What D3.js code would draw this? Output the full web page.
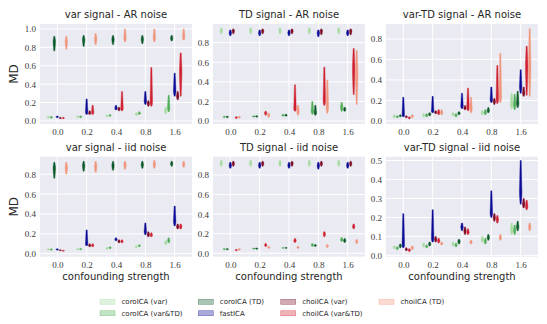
<!DOCTYPE html>
<html><head><meta charset="utf-8">
<script src="https://cdn.jsdelivr.net/npm/d3@7"></script>
<style>
body{margin:0;background:#fff;}
svg{display:block;}
</style></head>
<body>
<svg id="c" width="547" height="324"></svg>
<script>
// ---------- data ----------
const categories = ["0.0","0.2","0.4","0.8","1.6"];
const methods = ["coroICA (var)","coroICA (var&TD)","coroICA (TD)","fastICA","choiICA (var)","choiICA (var&TD)","choiICA (TD)"];
const panelTitles = ["var signal - AR noise","TD signal - AR noise","var-TD signal - AR noise",
                     "var signal - iid noise","TD signal - iid noise","var-TD signal - iid noise"];
const yTicks = [[0,0.2,0.4,0.6,0.8,1.0],[0,0.2,0.4,0.6,0.8],[0,0.2,0.4,0.6,0.8],
                [0,0.2,0.4,0.6,0.8],[0,0.2,0.4,0.6,0.8],[0,0.1,0.2,0.3,0.4,0.5]];
const yLimits = [[-0.033,1.054],[-0.03,0.99],[-0.03,0.946],[-0.03,0.977],[-0.035,0.987],[-0.007,0.52]];

// each: [method][category] = [low, mode, high]
const varAR = [
  [[0.03,0.04,0.05],[0.035,0.045,0.055],[0.045,0.055,0.065],[0.06,0.07,0.09],[0.08,0.11,0.15]],
  [[0.03,0.04,0.05],[0.035,0.045,0.055],[0.05,0.06,0.07],[0.07,0.08,0.1],[0.1,0.14,0.28]],
  [[0.76,0.87,0.92],[0.81,0.89,0.93],[0.83,0.89,0.93],[0.84,0.89,0.93],[0.87,0.9,0.93]],
  [[0.035,0.045,0.055],[0.07,0.09,0.24],[0.12,0.14,0.17],[0.18,0.21,0.32],[0.27,0.32,0.52]],
  [[0.025,0.03,0.04],[0.07,0.08,0.11],[0.11,0.13,0.15],[0.16,0.19,0.22],[0.23,0.27,0.32]],
  [[0.025,0.03,0.04],[0.07,0.09,0.17],[0.11,0.13,0.32],[0.16,0.2,0.58],[0.27,0.55,0.74]],
  [[0.78,0.87,0.92],[0.83,0.89,0.95],[0.86,0.9,1.0],[0.86,0.9,1.0],[0.88,0.91,1.0]]
];
const tdAR = [
  [[0.89,0.92,0.95],[0.89,0.92,0.95],[0.89,0.92,0.95],[0.89,0.92,0.95],[0.89,0.92,0.95]],
  [[0.035,0.045,0.05],[0.04,0.05,0.055],[0.05,0.06,0.07],[0.07,0.1,0.2],[0.1,0.14,0.19]],
  [[0.035,0.045,0.05],[0.04,0.05,0.055],[0.05,0.06,0.07],[0.06,0.08,0.16],[0.1,0.12,0.14]],
  [[0.87,0.9,0.93],[0.87,0.9,0.93],[0.87,0.9,0.93],[0.86,0.9,0.93],[0.87,0.9,0.93]],
  [[0.89,0.92,0.94],[0.89,0.92,0.94],[0.89,0.92,0.94],[0.88,0.92,0.94],[0.88,0.92,0.94]],
  [[0.025,0.035,0.045],[0.06,0.085,0.1],[0.1,0.12,0.37],[0.16,0.2,0.55],[0.27,0.55,0.74]],
  [[0.03,0.04,0.05],[0.04,0.06,0.08],[0.06,0.1,0.16],[0.08,0.14,0.42],[0.17,0.5,0.72]]
];
const vtdAR = [
  [[0.03,0.045,0.06],[0.04,0.055,0.07],[0.05,0.065,0.08],[0.06,0.08,0.1],[0.12,0.16,0.27]],
  [[0.03,0.04,0.05],[0.04,0.05,0.07],[0.04,0.055,0.07],[0.06,0.08,0.11],[0.11,0.16,0.26]],
  [[0.04,0.05,0.06],[0.05,0.065,0.08],[0.06,0.075,0.09],[0.08,0.1,0.13],[0.13,0.17,0.29]],
  [[0.04,0.05,0.23],[0.08,0.09,0.24],[0.12,0.14,0.27],[0.18,0.2,0.33],[0.27,0.33,0.5]],
  [[0.03,0.04,0.05],[0.07,0.08,0.1],[0.11,0.12,0.15],[0.16,0.19,0.22],[0.24,0.27,0.33]],
  [[0.02,0.03,0.04],[0.06,0.08,0.11],[0.1,0.13,0.32],[0.17,0.21,0.54],[0.25,0.55,0.73]],
  [[0.03,0.05,0.06],[0.06,0.08,0.11],[0.08,0.12,0.23],[0.18,0.23,0.66],[0.24,0.55,0.9]]
];
const varIID = [
  [[0.035,0.04,0.05],[0.04,0.045,0.055],[0.045,0.055,0.065],[0.06,0.07,0.08],[0.09,0.11,0.13]],
  [[0.035,0.04,0.05],[0.04,0.045,0.055],[0.05,0.06,0.07],[0.07,0.08,0.09],[0.11,0.13,0.16]],
  [[0.76,0.87,0.92],[0.83,0.89,0.93],[0.84,0.89,0.93],[0.86,0.9,0.93],[0.88,0.91,0.93]],
  [[0.035,0.045,0.05],[0.08,0.09,0.24],[0.13,0.14,0.16],[0.19,0.22,0.31],[0.28,0.32,0.48]],
  [[0.03,0.035,0.04],[0.07,0.08,0.1],[0.11,0.12,0.14],[0.17,0.19,0.22],[0.25,0.27,0.3]],
  [[0.025,0.03,0.035],[0.07,0.08,0.1],[0.11,0.12,0.14],[0.17,0.19,0.21],[0.25,0.27,0.3]],
  [[0.8,0.87,0.92],[0.82,0.88,0.93],[0.85,0.9,0.93],[0.86,0.9,0.94],[0.87,0.9,0.93]]
];
const tdIID = [
  [[0.89,0.92,0.95],[0.89,0.92,0.95],[0.89,0.92,0.95],[0.89,0.92,0.95],[0.89,0.92,0.95]],
  [[0.035,0.045,0.05],[0.04,0.05,0.055],[0.05,0.055,0.06],[0.07,0.085,0.1],[0.12,0.14,0.16]],
  [[0.035,0.04,0.05],[0.04,0.05,0.055],[0.05,0.055,0.06],[0.07,0.08,0.09],[0.11,0.13,0.15]],
  [[0.87,0.9,0.93],[0.87,0.9,0.93],[0.87,0.9,0.93],[0.86,0.9,0.93],[0.87,0.9,0.93]],
  [[0.89,0.92,0.94],[0.89,0.92,0.94],[0.89,0.92,0.94],[0.89,0.92,0.94],[0.89,0.92,0.94]],
  [[0.025,0.03,0.04],[0.07,0.08,0.1],[0.11,0.13,0.15],[0.17,0.2,0.22],[0.25,0.27,0.3]],
  [[0.03,0.04,0.05],[0.05,0.06,0.07],[0.05,0.06,0.07],[0.06,0.07,0.09],[0.1,0.12,0.14]]
];
const vtdIID = [
  [[0.035,0.045,0.05],[0.045,0.055,0.065],[0.05,0.06,0.07],[0.07,0.085,0.1],[0.11,0.14,0.17]],
  [[0.03,0.038,0.045],[0.04,0.045,0.055],[0.045,0.05,0.065],[0.06,0.075,0.09],[0.11,0.13,0.16]],
  [[0.04,0.05,0.06],[0.05,0.06,0.07],[0.06,0.075,0.085],[0.08,0.095,0.11],[0.13,0.15,0.18]],
  [[0.04,0.05,0.22],[0.07,0.085,0.24],[0.13,0.15,0.17],[0.2,0.22,0.34],[0.27,0.33,0.5]],
  [[0.025,0.03,0.04],[0.07,0.085,0.1],[0.11,0.13,0.15],[0.18,0.2,0.22],[0.25,0.27,0.3]],
  [[0.02,0.027,0.035],[0.065,0.077,0.09],[0.11,0.12,0.14],[0.17,0.19,0.21],[0.24,0.26,0.29]],
  [[0.03,0.04,0.05],[0.055,0.06,0.07],[0.06,0.07,0.08],[0.08,0.095,0.11],[0.13,0.15,0.17]]
];
const panelData = [varAR, tdAR, vtdAR, varIID, tdIID, vtdIID];

// ---------- style ----------
const colors = ["#a6dba0","#4fae56","#0b5a28","#0b0b96","#7d0b26","#cf2231","#f1957c"];
const serif = "'Liberation Serif','DejaVu Serif',serif";
const sans = "'DejaVu Sans','Liberation Sans',sans-serif";

const svg = d3.select("#c");
const colLeft = [40, 213, 386], rowTop = [24, 156.7];
const pw = 152, ph = 100;

const hue = d3.scalePoint().domain(methods).range([-9, 9]);

panelData.forEach((data, p) => {
  const left = colLeft[p % 3], top = rowTop[Math.floor(p / 3)];
  const x = d3.scalePoint().domain(categories).range([left, left + pw]).padding(0.59);
  const y = d3.scaleLinear().domain(yLimits[p]).range([top + ph, top]);
  const g = svg.append("g");
  g.append("rect").attr("x", left).attr("y", top).attr("width", pw).attr("height", ph).attr("fill", "#eaeaf2");
  // grid
  g.selectAll(".gy").data(yTicks[p]).enter().append("line")
    .attr("x1", left).attr("x2", left + pw)
    .attr("y1", d => y(d)).attr("y2", d => y(d))
    .attr("stroke", "#fff").attr("stroke-width", 1);
  g.selectAll(".gx").data(categories).enter().append("line")
    .attr("x1", d => x(d)).attr("x2", d => x(d))
    .attr("y1", top).attr("y2", top + ph)
    .attr("stroke", "#fff").attr("stroke-width", 1);
  // axes
  const ya = d3.axisLeft(y).tickValues(yTicks[p]).tickFormat(d3.format(".1f")).tickSize(0).tickPadding(4);
  const yg = g.append("g").attr("transform", `translate(${left},0)`).call(ya);
  const xa = d3.axisBottom(x).tickSize(0).tickPadding(5);
  const xg = g.append("g").attr("transform", `translate(0,${top + ph})`).call(xa);
  [yg, xg].forEach(a => {
    a.select(".domain").remove();
    a.selectAll("text").attr("font-family", serif).attr("font-size", 9).attr("fill", "#3a3a3a");
  });
  // title
  g.append("text").attr("x", left + pw / 2).attr("y", top - 6).attr("text-anchor", "middle")
    .attr("font-family", sans).attr("font-size", 10).attr("fill", "#262626").text(panelTitles[p]);
  // violins
  const area = d3.area().curve(d3.curveBasis)
    .y(d => d[0]).x0(d => d[1] - d[2]).x1(d => d[1] + d[2]);
  data.forEach((series, m) => {
    series.forEach((v, c) => {
      const cx = x(categories[c]) + hue(methods[m]);
      const [lo, mo, hi] = v;
      const pts = [
        [y(lo), cx, 0.5],
        [y(lo + (mo - lo) * 0.5), cx, 1.0],
        [y(mo), cx, 1.35],
        [y(mo + (hi - mo) * 0.25), cx, 1.05],
        [y(mo + (hi - mo) * 0.6), cx, 0.85],
        [y(hi), cx, 0.55]
      ];
      g.append("path").attr("d", area(pts)).attr("fill", colors[m]).attr("stroke", colors[m]).attr("stroke-width", 0.4);
    });
  });
  // x label
  if (p >= 3) {
    g.append("text").attr("x", left + pw / 2).attr("y", top + ph + 23).attr("text-anchor", "middle")
      .attr("font-family", sans).attr("font-size", 10).attr("fill", "#262626").text("confounding strength");
  }
  if (p % 3 === 0) {
    g.append("text").attr("transform", `translate(18,${top + ph / 2}) rotate(-90)`).attr("text-anchor", "middle")
      .attr("font-family", sans).attr("font-size", 12).attr("fill", "#262626").text("MD");
  }
});

// legend
const legX = [100, 198.3, 280.7, 379];
const legY = [301.8, 313.2];
const leg = svg.append("g");
methods.forEach((m, i) => {
  const col = Math.floor(i / 2), row = i % 2;
  const lx = legX[col], ly = legY[row];
  leg.append("rect").attr("x", lx).attr("y", ly - 2.5).attr("width", 15).attr("height", 5)
    .attr("fill", colors[i]).attr("fill-opacity", 0.35).attr("stroke", colors[i]).attr("stroke-opacity", 0.5).attr("stroke-width", 0.6);
  leg.append("text").attr("x", lx + 21.5).attr("y", ly).attr("dy", "0.35em")
    .attr("font-family", sans).attr("font-size", 7).attr("fill", "#262626").text(m);
});
</script>
</body></html>
